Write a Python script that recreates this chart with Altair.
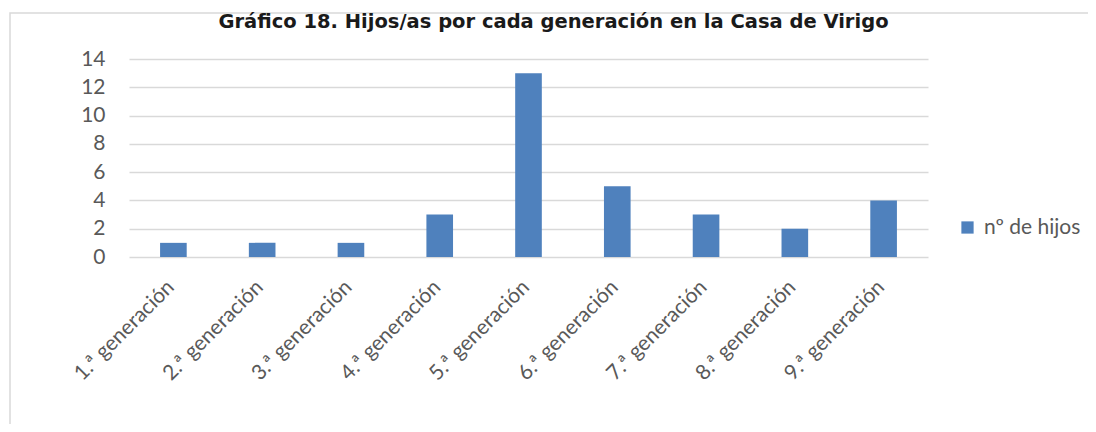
import altair as alt
import pandas as pd

# ---- data ----
categories = [
    "1.ª generación", "2.ª generación", "3.ª generación",
    "4.ª generación", "5.ª generación", "6.ª generación",
    "7.ª generación", "8.ª generación", "9.ª generación",
]
values = [1, 1, 1, 3, 13, 5, 3, 2, 4]
series_name = "nº de hijos"
y_ticks = [0, 2, 4, 6, 8, 10, 12, 14]
title_text = "Gráfico 18. Hijos/as por cada generación en la Casa de Virigo"

df = pd.DataFrame({
    "generacion": categories,
    "hijos": values,
    "serie": [series_name] * len(categories),
})

PLOT_W = 799
PLOT_H = 198
LABEL_FONT = "Lato"
GRAY = "#595959"
BLUE = "#4F81BD"
GRID = "#D9D9D9"

border = alt.Chart(alt.Data(values=[{"b": 1}])).mark_rect(
    filled=False, stroke=GRID, strokeWidth=1.5
).encode(
    x=alt.value(-119), y=alt.value(-46), x2=alt.value(1300), y2=alt.value(700)
)

bars = alt.Chart(df).mark_bar().encode(
    x=alt.X(
        "generacion:N", sort=categories, title=None,
        scale=alt.Scale(paddingInner=0.7, paddingOuter=0.35),
        axis=alt.Axis(labelAngle=-45, labelFontSize=21, labelFont=LABEL_FONT,
                      labelColor=GRAY, ticks=False, domain=False, labelPadding=19,
                      labelOffset=-10),
    ),
    y=alt.Y(
        "hijos:Q", title=None, scale=alt.Scale(domain=[0, 14], nice=False),
        axis=alt.Axis(values=y_ticks, labelFontSize=21, labelFont=LABEL_FONT,
                      labelColor=GRAY, ticks=False, domain=False, labelPadding=24,
                      gridColor=GRID, gridWidth=1.3),
    ),
    color=alt.Color(
        "serie:N", scale=alt.Scale(range=[BLUE]),
        legend=alt.Legend(title=None, orient="none", legendX=828, legendY=158,
                          symbolType="square", symbolSize=150, symbolStrokeWidth=0,
                          labelFontSize=21, labelFont=LABEL_FONT, labelColor=GRAY,
                          labelOffset=6),
    ),
)

chart = alt.layer(border, bars).properties(
    width=PLOT_W,
    height=PLOT_H,
    title=alt.Title(title_text, font="DejaVu Sans", fontSize=19.5, fontWeight="bold",
                    color="#1A1A1A", anchor="middle", dx=25, baseline="alphabetic",
                    offset=-35),
    autosize=alt.AutoSizeParams(type="none"),
    padding={"left": 121, "top": 51, "right": 160, "bottom": 167},
).configure_view(stroke=None)

chart.save("out.html", embed_options={"renderer": "svg", "actions": False})
